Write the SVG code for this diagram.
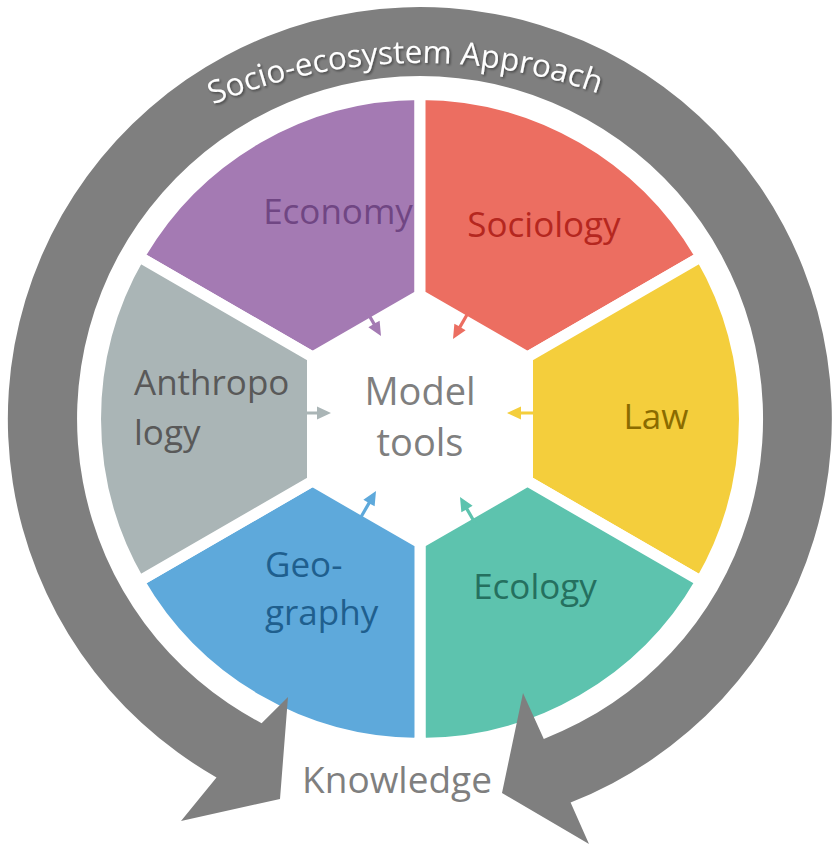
<svg xmlns="http://www.w3.org/2000/svg" xmlns:xlink="http://www.w3.org/1999/xlink" width="833" height="848" viewBox="0 0 833 848">
  <defs>
    <style>
      .seg { stroke: #ffffff; stroke-width: 11; stroke-linejoin: miter; }
      .lbl { font-family: "Open Sans", "Liberation Sans", sans-serif; font-size: 35px; }
      .mid { text-anchor: middle; }
      .ring-label { font-family: "Open Sans", "Liberation Sans", sans-serif; font-size: 31.5px; fill: #ffffff; }
    </style>
    <filter id="softShadow" x="-10%" y="-30%" width="120%" height="160%">
      <feDropShadow dx="1.5" dy="1.5" stdDeviation="1.2" flood-color="#000000" flood-opacity="0.45"/>
    </filter>
    <!-- small inward arrow: tip at origin, pointing along +x -->
    <path id="inArrow" d="M0,0 L-14,-6.5 L-14,-1.6 L-30,-1.6 L-30,1.6 L-14,1.6 L-14,6.5 Z"/>
    <!-- baseline for the curved title -->
    <path id="titleArc" d="M-42.5,330 A534,534 0 0 1 882.5,330" fill="none"/>
  </defs>

  <rect width="833" height="848" fill="#ffffff"/>

  <!-- discipline segments around the hexagonal core -->
  <g id="economy">
    <path class="seg" fill="#A47AB3" d="M312.5,356.95 L139,256.75 A324.5,324.5 0 0 1 420,94.5 L420,294.9 Z"/>
    <text class="lbl mid" x="338" y="224" fill="#704683">Economy</text>
  </g>
  <g id="sociology">
    <path class="seg" fill="#EC6E61" d="M420,294.9 L420,94.5 A324.5,324.5 0 0 1 701,256.75 L527.5,356.95 Z"/>
    <text class="lbl mid" x="544" y="237" fill="#B5271F">Sociology</text>
  </g>
  <g id="law">
    <path class="seg" fill="#F4CE3C" d="M527.5,356.95 L701,256.75 A324.5,324.5 0 0 1 701,581.25 L527.5,481.05 Z"/>
    <text class="lbl mid" x="656" y="429" fill="#8A6B00">Law</text>
  </g>
  <g id="ecology">
    <path class="seg" fill="#5DC3AE" d="M527.5,481.05 L701,581.25 A324.5,324.5 0 0 1 420,743.5 L420,543.1 Z"/>
    <text class="lbl mid" x="535" y="599" fill="#25705F">Ecology</text>
  </g>
  <g id="geography">
    <path class="seg" fill="#5EA9DB" d="M420,543.1 L420,743.5 A324.5,324.5 0 0 1 139,581.25 L312.5,481.05 Z"/>
    <text class="lbl" x="265" y="577" fill="#1F5F8E">Geo-</text>
    <text class="lbl" x="265" y="625" fill="#1F5F8E">graphy</text>
  </g>
  <g id="anthropology">
    <path class="seg" fill="#AAB5B6" d="M312.5,481.05 L139,581.25 A324.5,324.5 0 0 1 139,256.75 L312.5,356.95 Z"/>
    <text class="lbl" x="134" y="395" fill="#595959">Anthropo</text>
    <text class="lbl" x="134" y="445" fill="#595959">logy</text>
  </g>

  <!-- core -->
  <g id="model-tools">
    <text class="lbl mid" x="420" y="405" fill="#7F7F7F" style="font-size:38px">Model</text>
    <text class="lbl mid" x="420" y="456" fill="#7F7F7F" style="font-size:38px">tools</text>
  </g>

  <!-- inward arrows from each discipline to the core -->
  <g id="connectors">
    <use xlink:href="#inArrow" fill="#A47AB3" transform="translate(381,336) rotate(60)"/>
    <use xlink:href="#inArrow" fill="#EC6E61" transform="translate(453,339) rotate(120)"/>
    <use xlink:href="#inArrow" fill="#F4CE3C" transform="translate(507,413) rotate(180)"/>
    <use xlink:href="#inArrow" fill="#5DC3AE" transform="translate(460,497) rotate(-120)"/>
    <use xlink:href="#inArrow" fill="#5EA9DB" transform="translate(376,491) rotate(-60)"/>
    <use xlink:href="#inArrow" fill="#AAB5B6" transform="translate(331,413)"/>
  </g>

  <!-- surrounding cycle: ring with two arrowheads meeting at the bottom -->
  <g id="approach-cycle">
    <path fill="#7F7F7F" d="M570.6,802.5 A412,412 0 1 0 216.5,777.4 L181,821 L280,799 L288,697 L261.6,723.2 A343,343 0 1 1 543.8,738.9 L523,693 L502,793 L589,844 Z"/>
    <text class="ring-label" filter="url(#softShadow)"><textPath xlink:href="#titleArc" startOffset="544" text-anchor="middle">Socio-ecosystem Approach</textPath></text>
  </g>

  <g id="knowledge">
    <text class="lbl mid" x="397" y="793" fill="#7F7F7F" style="font-size:37px">Knowledge</text>
  </g>
</svg>
